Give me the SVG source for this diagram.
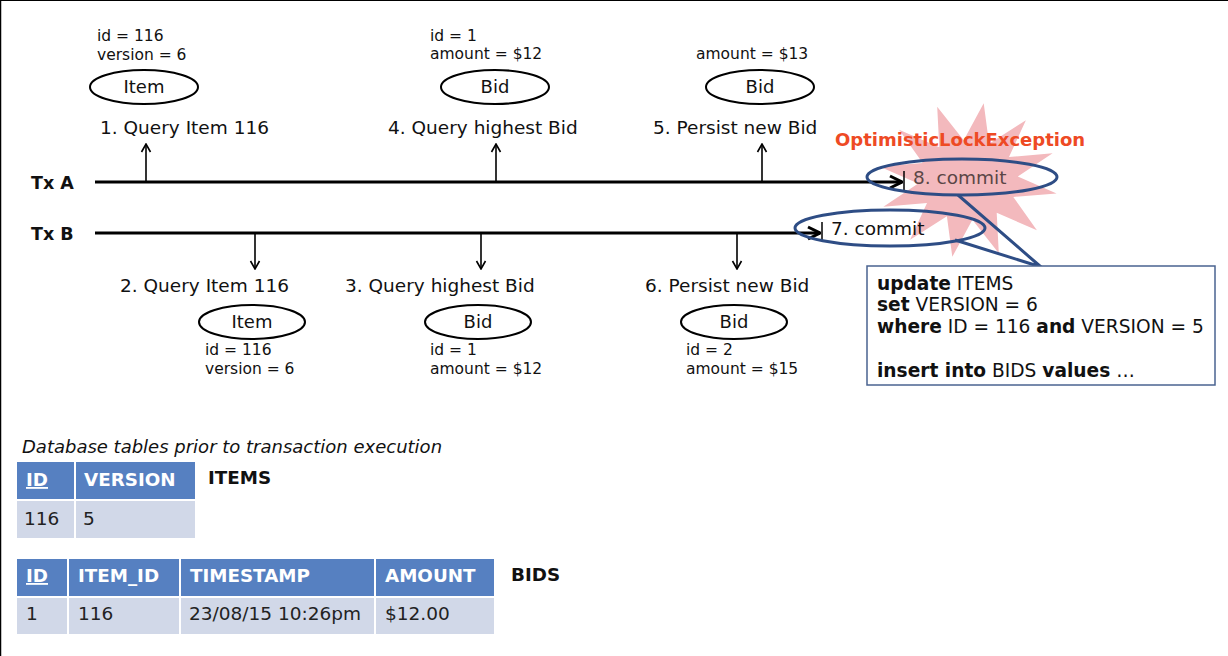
<svg xmlns="http://www.w3.org/2000/svg" width="1228" height="656" viewBox="0 0 1228 656">
<style>
  text { font-family: "DejaVu Sans", Verdana, sans-serif; fill: #111; }
  .lbl { font-size: 18.5px; }
  .attr { font-size: 15.5px; }
  .ent { font-size: 18px; }
  .tx { font-size: 17.5px; font-weight: bold; }
  .ell { fill: #fff; stroke: #000; stroke-width: 2; }
  .evt { stroke: #000; stroke-width: 1.6; fill: none; }
  .tl { stroke: #000; stroke-width: 3; fill: none; }
  .cbox { fill: none; stroke: #2e4d85; stroke-width: 3; }
  .sql { font-size: 18.6px; }
  .b { font-weight: bold; }
  .hdr { fill: #5680c1; }
  .row { fill: #d1d8e8; }
  .th { font-size: 18.3px; font-weight: bold; fill: #fff; }
  .td { font-size: 18.5px; fill: #222; }
  .tname { font-size: 18.3px; font-weight: bold; }
</style>
<defs>
  <marker id="sm" viewBox="0 0 12 12" refX="11" refY="6" markerWidth="12" markerHeight="12" markerUnits="userSpaceOnUse" orient="auto">
    <path d="M3,1.5 L11,6 L3,10.5" fill="none" stroke="#000" stroke-width="1.6"/>
  </marker>
  <marker id="lg" viewBox="0 0 16 16" refX="15" refY="8" markerWidth="16" markerHeight="16" markerUnits="userSpaceOnUse" orient="auto">
    <path d="M3,2 L15,8 L3,14" fill="none" stroke="#000" stroke-width="3"/>
  </marker>
</defs>
<rect x="0" y="0" width="1228" height="656" fill="#fff"/>
<line x1="0.5" y1="0" x2="0.5" y2="656" stroke="#000" stroke-width="1.5"/>
<line x1="0" y1="0.5" x2="1228" y2="0.5" stroke="#000" stroke-width="1"/>

<!-- starburst -->
<g id="burst">
  <polygon fill="#f3b9bd" points="983.7,103.2 989.1,143.8 1025.9,120.3 1009,157 1052.6,153.3 1017.8,176.5 1056.6,193.6 1013.3,196.9 1036.9,230.2 996.7,212.8 998.8,253.3 972.4,219.8 952.3,256.8 946.9,216.2 910.1,239.7 927,203 883.4,206.7 918.2,183.5 879.4,166.4 922.7,163.1 899.1,129.8 939.3,147.2 937.2,106.7 963.7,140.2"/>
  <text x="835" y="146" style="font-size:18px;font-weight:bold;fill:#ee4a24">OptimisticLockException</text>
</g>

<!-- transaction labels -->
<g id="txA-label"><text class="tx" x="31" y="189">Tx A</text></g>
<g id="txB-label"><text class="tx" x="31" y="240">Tx B</text></g>

<!-- connectors -->
<g id="connectors">
  <line class="tl" x1="95" y1="182" x2="902" y2="182" marker-end="url(#lg)"/>
  <line x1="904" y1="171" x2="904" y2="190" stroke="#000" stroke-width="1.5"/>
  <line class="tl" x1="95" y1="233" x2="820" y2="233" marker-end="url(#lg)"/>
  <line x1="822" y1="222" x2="822" y2="241" stroke="#000" stroke-width="1.5"/>
  <line class="evt" x1="146" y1="181" x2="146" y2="144" marker-end="url(#sm)"/>
  <line class="evt" x1="496" y1="181" x2="496" y2="144" marker-end="url(#sm)"/>
  <line class="evt" x1="762" y1="181" x2="762" y2="144" marker-end="url(#sm)"/>
  <line class="evt" x1="255" y1="234" x2="255" y2="269" marker-end="url(#sm)"/>
  <line class="evt" x1="481" y1="234" x2="481" y2="269" marker-end="url(#sm)"/>
  <line class="evt" x1="737" y1="234" x2="737" y2="269" marker-end="url(#sm)"/>
  <polyline points="958,195 1041,267 955,240" fill="none" stroke="#2e4d85" stroke-width="3"/>
</g>

<!-- Tx A steps -->
<g id="step1">
  <text class="attr" x="97" y="41">id = 116</text>
  <text class="attr" x="97" y="60">version = 6</text>
  <ellipse class="ell" cx="144" cy="87" rx="54" ry="17"/>
  <text class="ent" x="144" y="93" text-anchor="middle">Item</text>
  <text class="lbl" x="100" y="134">1. Query Item 116</text>
</g>
<g id="step4">
  <text class="attr" x="430" y="41">id = 1</text>
  <text class="attr" x="430" y="59">amount = $12</text>
  <ellipse class="ell" cx="495" cy="87" rx="54" ry="17"/>
  <text class="ent" x="495" y="93" text-anchor="middle">Bid</text>
  <text class="lbl" x="388" y="134">4. Query highest Bid</text>
</g>
<g id="step5">
  <text class="attr" x="696" y="59">amount = $13</text>
  <ellipse class="ell" cx="760" cy="87" rx="54" ry="17"/>
  <text class="ent" x="760" y="93" text-anchor="middle">Bid</text>
  <text class="lbl" x="653" y="134">5. Persist new Bid</text>
</g>

<!-- Tx B steps -->
<g id="step2">
  <text class="lbl" x="120" y="292">2. Query Item 116</text>
  <ellipse class="ell" cx="252" cy="322" rx="53" ry="17"/>
  <text class="ent" x="252" y="328" text-anchor="middle">Item</text>
  <text class="attr" x="205" y="355">id = 116</text>
  <text class="attr" x="205" y="374">version = 6</text>
</g>
<g id="step3">
  <text class="lbl" x="345" y="292">3. Query highest Bid</text>
  <ellipse class="ell" cx="478" cy="322" rx="53" ry="17"/>
  <text class="ent" x="478" y="328" text-anchor="middle">Bid</text>
  <text class="attr" x="430" y="355">id = 1</text>
  <text class="attr" x="430" y="374">amount = $12</text>
</g>
<g id="step6">
  <text class="lbl" x="645" y="292">6. Persist new Bid</text>
  <ellipse class="ell" cx="734" cy="322" rx="53" ry="17"/>
  <text class="ent" x="734" y="328" text-anchor="middle">Bid</text>
  <text class="attr" x="686" y="355">id = 2</text>
  <text class="attr" x="686" y="374">amount = $15</text>
</g>

<!-- commits -->
<g id="commit8">
  <ellipse class="cbox" cx="962" cy="177" rx="95" ry="18"/>
  <text class="lbl" x="913" y="184" style="fill:#5b4646">8. commit</text>
</g>
<g id="commit7">
  <ellipse class="cbox" cx="890" cy="228" rx="95" ry="18"/>
  <text class="lbl" x="831" y="235">7. commit</text>
</g>

<!-- SQL callout -->
<g id="sql">
  <rect x="867" y="266" width="348" height="119" fill="#fff" stroke="#4a6390" stroke-width="1.5"/>
  <text class="sql" x="877" y="290"><tspan class="b">update</tspan> ITEMS</text>
  <text class="sql" x="877" y="311"><tspan class="b">set</tspan> VERSION = 6</text>
  <text class="sql" x="877" y="333"><tspan class="b">where</tspan> ID = 116 <tspan class="b">and</tspan> VERSION = 5</text>
  <text class="sql" x="877" y="377"><tspan class="b">insert into</tspan> BIDS <tspan class="b">values</tspan> …</text>
</g>

<!-- tables -->
<g id="caption">
  <text x="22" y="453" style="font-size:18px;font-style:italic">Database tables prior to transaction execution</text>
</g>
<g id="items-table">
  <rect class="hdr" x="17" y="462" width="57" height="37"/>
  <rect class="hdr" x="76" y="462" width="119" height="37"/>
  <rect class="row" x="17" y="501" width="57" height="37"/>
  <rect class="row" x="76" y="501" width="119" height="37"/>
  <text class="th" x="26" y="486" text-decoration="underline">ID</text>
  <text class="th" x="84" y="486">VERSION</text>
  <text class="td" x="24" y="525">116</text>
  <text class="td" x="83" y="525">5</text>
  <text class="tname" x="208" y="484">ITEMS</text>
</g>
<g id="bids-table">
  <rect class="hdr" x="17" y="559" width="50" height="37"/>
  <rect class="hdr" x="69" y="559" width="110" height="37"/>
  <rect class="hdr" x="181" y="559" width="193" height="37"/>
  <rect class="hdr" x="376" y="559" width="118" height="37"/>
  <rect class="row" x="17" y="598" width="50" height="36"/>
  <rect class="row" x="69" y="598" width="110" height="36"/>
  <rect class="row" x="181" y="598" width="193" height="36"/>
  <rect class="row" x="376" y="598" width="118" height="36"/>
  <text class="th" x="26" y="582" text-decoration="underline">ID</text>
  <text class="th" x="78" y="582">ITEM_ID</text>
  <text class="th" x="190" y="582">TIMESTAMP</text>
  <text class="th" x="385" y="582">AMOUNT</text>
  <text class="td" x="26" y="620">1</text>
  <text class="td" x="78" y="620">116</text>
  <text class="td" x="189" y="620">23/08/15 10:26pm</text>
  <text class="td" x="385" y="620">$12.00</text>
  <text class="tname" x="511" y="581">BIDS</text>
</g>
</svg>
